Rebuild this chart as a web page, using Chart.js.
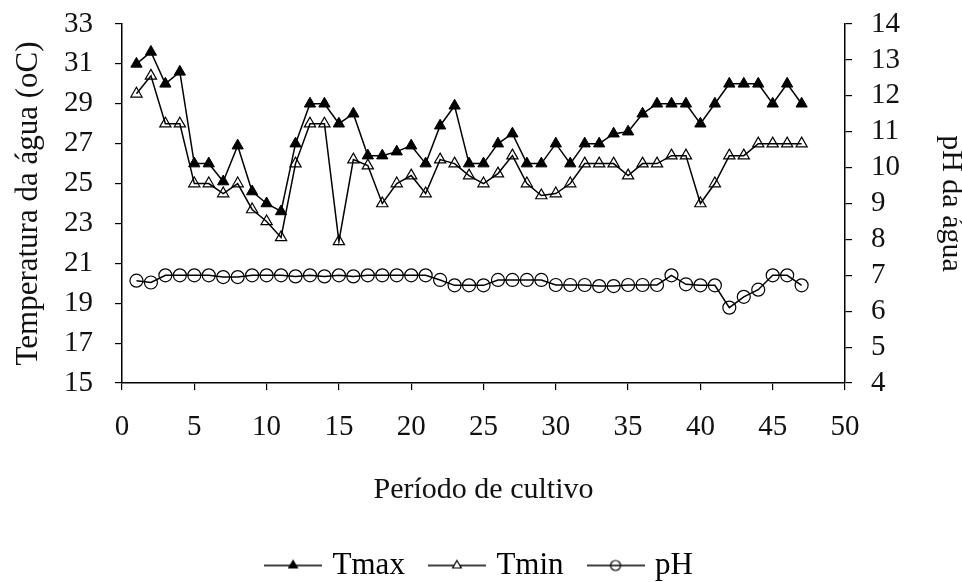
<!DOCTYPE html>
<html><head><meta charset="utf-8">
<script src="https://cdn.jsdelivr.net/npm/chart.js@4"></script>
<style>html,body{margin:0;padding:0;background:#fff}canvas{display:block}</style>
</head><body>
<canvas id="c" width="962" height="582"></canvas>
<script>
const days = [1,2,3,4,5,6,7,8,9,10,11,12,13,14,15,16,17,18,19,20,21,22,23,24,25,26,27,28,29,30,31,32,33,34,35,36,37,38,39,40,41,42,43,44,45,46,47];
const tmax = [31,31.6,30,30.6,26,26,25.1,26.9,24.6,24,23.6,27,29,29,28,28.5,26.4,26.4,26.6,26.9,26,27.9,28.9,26,26,27,27.5,26,26,27,26,27,27,27.5,27.6,28.5,29,29,29,28,29,30,30,30,29,30,29];
const tmin = [29.5,30.4,28,28,25,25,24.5,25,23.7,23.1,22.3,26,28,28,22.1,26.2,25.9,24,25,25.4,24.5,26.2,26,25.4,25,25.5,26.4,25,24.4,24.5,25,26,26,26,25.4,26,26,26.4,26.4,24,25,26.4,26.4,27,27,27,27];
const ph = [6.85,6.8,7,7,7,7,6.95,6.95,7,7,7,6.97,7,6.97,7,6.97,7,7,7,7,7,6.87,6.72,6.72,6.72,6.87,6.87,6.87,6.87,6.73,6.73,6.73,6.7,6.7,6.73,6.73,6.73,7,6.75,6.72,6.72,6.1,6.4,6.6,7,7,6.72];
const xTicks = [0,5,10,15,20,25,30,35,40,45,50];
const leftTicks = [15,17,19,21,23,25,27,29,31,33];
const rightTicks = [4,5,6,7,8,9,10,11,12,13,14];
const seriesNames = ['Tmax','Tmin','pH'];
const xTitle = 'Período de cultivo';
const leftTitle = 'Temperatura da água (oC)';
const rightTitle = 'pH da água';

const FONT = "'Liberation Serif','Times New Roman',serif";
const INK = '#111';

function makeIcon(style, fill){
  const c = document.createElement('canvas');
  c.width = 58; c.height = 20;
  const g = c.getContext('2d');
  g.strokeStyle = '#000'; g.lineWidth = 1.5;
  g.beginPath(); g.moveTo(0, 10); g.lineTo(58, 10); g.stroke();
  g.fillStyle = fill; g.lineWidth = 1.2;
  Chart.helpers.drawPoint(g, {pointStyle: style, radius: 5, borderWidth: 1.2, rotation: 0}, 29, 10);
  return c;
}

const pts = arr => days.map((d, i) => ({x: d, y: arr[i]}));
const noVPad = s => { s.paddingTop = 0; s.paddingBottom = 0; };

const chart = new Chart(document.getElementById('c'), {
  type: 'line',
  data: {
    datasets: [
      {label: seriesNames[0], data: pts(tmax), yAxisID: 'y', borderColor: '#000', borderWidth: 1.5,
       pointStyle: 'triangle', pointRadius: 6.5, pointBackgroundColor: '#000', pointBorderColor: '#000', pointBorderWidth: 1},
      {label: seriesNames[1], data: pts(tmin), yAxisID: 'y', borderColor: '#000', borderWidth: 1.5,
       pointStyle: 'triangle', pointRadius: 6.5, pointBackgroundColor: 'rgba(255,255,255,0)', pointBorderColor: '#000', pointBorderWidth: 1.2},
      {label: seriesNames[2], data: pts(ph), yAxisID: 'y1', borderColor: '#000', borderWidth: 1.5,
       pointStyle: 'circle', pointRadius: 6.5, pointBackgroundColor: 'rgba(255,255,255,0)', pointBorderColor: '#000', pointBorderWidth: 1.2}
    ]
  },
  options: {
    responsive: false,
    animation: false,
    layout: {padding: {left: 0, right: 0, top: 24, bottom: -9}},
    plugins: {
      tooltip: {enabled: false},
      legend: {
        position: 'bottom',
        labels: {
          usePointStyle: true, pointStyleWidth: 48, padding: 28, color: INK,
          font: {family: FONT, size: 31},
          generateLabels: ch => ch.data.datasets.map((ds, i) => ({
            text: ds.label,
            pointStyle: makeIcon(i === 2 ? 'circle' : 'triangle', i === 0 ? '#000' : (i === 1 ? '#fff' : 'rgba(255,255,255,0)')),
            fillStyle: '#000', strokeStyle: '#000', lineWidth: 0, hidden: false, datasetIndex: i
          }))
        }
      }
    },
    scales: {
      x: {
        type: 'linear', min: 0, max: 50,
        afterBuildTicks: s => { s.ticks = xTicks.map(v => ({value: v})); },
        afterFit: s => { s.height = 139; },
        grid: {drawOnChartArea: false, drawTicks: true, tickLength: 7, color: '#000', lineWidth: 1.2},
        border: {display: true, color: '#000', width: 1.5},
        ticks: {color: INK, font: {family: FONT, size: 29}, padding: 20, maxRotation: 0, autoSkip: false},
        title: {display: true, text: xTitle, color: INK, font: {family: FONT, size: 30}, padding: {top: 0, bottom: 14}}
      },
      y: {
        type: 'linear', position: 'left', min: 15, max: 33,
        afterBuildTicks: s => { s.ticks = leftTicks.map(v => ({value: v})); },
        afterFit: s => { s.width = 122; noVPad(s); },
        grid: {drawOnChartArea: false, drawTicks: true, tickLength: 7, color: '#000', lineWidth: 1.2},
        border: {display: true, color: '#000', width: 1.5},
        ticks: {color: INK, font: {family: FONT, size: 29}, padding: 22, autoSkip: false},
        title: {display: true, text: leftTitle, color: INK, font: {family: FONT, size: 31}, padding: {top: 10, bottom: 0}}
      },
      y1: {
        type: 'linear', position: 'right', min: 4, max: 14,
        afterBuildTicks: s => { s.ticks = rightTicks.map(v => ({value: v})); },
        afterFit: s => { s.width = 117; noVPad(s); },
        grid: {drawOnChartArea: false, drawTicks: true, tickLength: 7, color: '#000', lineWidth: 1.2},
        border: {display: true, color: '#000', width: 1.5},
        ticks: {color: INK, font: {family: FONT, size: 29}, padding: 19, autoSkip: false},
        title: {display: true, text: rightTitle, color: INK, font: {family: FONT, size: 30}, padding: {top: -7, bottom: 0}}
      }
    }
  }
});
</script>
</body></html>
